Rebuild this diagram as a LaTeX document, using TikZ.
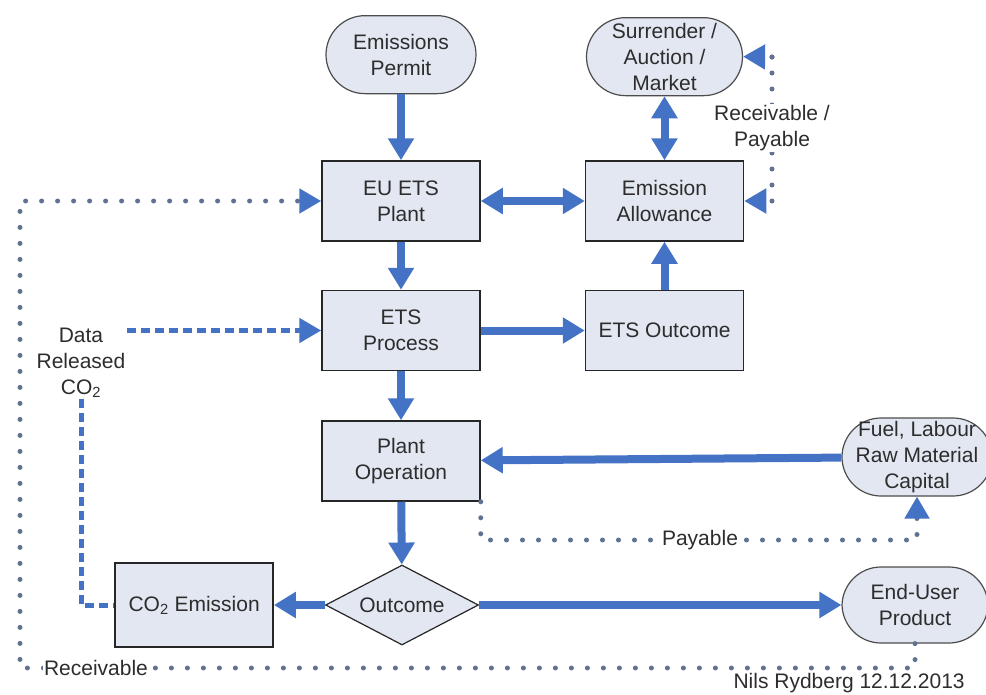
\documentclass[tikz,border=0pt]{standalone}
\usepackage{fontspec}
\setmainfont{Liberation Sans}
\usetikzlibrary{positioning,shapes.geometric,arrows.meta,calc}
\definecolor{flowblue}{RGB}{68,114,196}
\definecolor{boxfill}{RGB}{226,231,241}
\definecolor{dotgray}{RGB}{96,114,146}
\definecolor{textgray}{RGB}{45,45,45}
\tikzset{
    process box/.style={
        rectangle,
        draw=black!85,
        line width=1.5pt,
        fill=boxfill,
        align=center,
        text=textgray,
        font=\fontsize{21}{26}\selectfont,
        minimum width=158pt,
        minimum height=80pt,
        inner sep=0pt,
    },
    terminal/.style={
        process box,
        draw=black!70,
        line width=1.2pt,
        rounded corners=39pt,
        minimum height=78pt,
    },
    decision/.style={
        process box,
        diamond,
        aspect=2,
        line width=1.2pt,
        minimum width=153pt,
        minimum height=80pt,
    },
    line label/.style={
        fill=white,
        inner sep=1pt,
        align=center,
        text=textgray,
        font=\fontsize{21}{26}\selectfont,
    },
    flow connector/.style={
        -{Triangle[length=22pt,width=25pt]},
        line width=8pt,
        draw=flowblue,
    },
    both connector/.style={
        flow connector,
        {Triangle[length=22pt,width=25pt]}-{Triangle[length=22pt,width=25pt]},
    },
    dotted connector/.style={
        -{Triangle[length=22pt,width=24pt,color=flowblue]},
        draw=dotgray,
        line width=5pt,
        line cap=round,
        dash pattern=on 0pt off 16pt,
    },
    data connector/.style={
        draw=flowblue,
        line width=5pt,
        dash pattern=on 9pt off 5pt,
    },
}
\begin{document}
\begin{tikzpicture}[x=1pt,y=-1pt]
    \useasboundingbox (0,0) rectangle (986,694);
    % boxes
    \node[process box](plant) at (401,201) {EU ETS\\Plant};
    \node[process box,right=104pt of plant](allowance) {Emission\\Allowance};
    \node[process box,below=48pt of plant](process) {ETS\\Process};
    \node[process box,below=48pt of allowance](etsout) {ETS Outcome};
    \node[process box,below=49pt of process](operation) {Plant\\Operation};
    \node[decision](outcome) at (402,605) {Outcome};
    \node[process box,left=51pt of outcome,minimum height=84pt](co2) {CO\textsubscript{2} Emission};
    \node[terminal,above=66pt of plant,minimum width=150pt](permit) {Emissions\\Permit};
    \node[terminal,above=64pt of allowance,minimum width=156pt](market) {Surrender /\\Auction /\\Market};
    \node[terminal,minimum width=150pt](fuel) at (917,457) {Fuel, Labour\\Raw Material\\Capital};
    \node[terminal,minimum width=146pt,minimum height=76pt](product) at (915,605) {End-User\\Product};
    \node[line label,fill=none](datalabel) at (81,363) {Data\\Released\\CO\textsubscript{2}};
    % solid flows
    \draw[flow connector] (permit) -- (plant);
    \draw[both connector] (plant) -- (allowance);
    \draw[both connector] (market) -- (allowance);
    \draw[flow connector] (plant) -- (process);
    \draw[flow connector] (process) -- (etsout);
    \draw[flow connector] (etsout) -- (allowance);
    \draw[flow connector] (process) -- (operation);
    \draw[flow connector] (fuel) -- (operation);
    \draw[flow connector] (operation) -- (outcome);
    \draw[flow connector] (outcome) -- (co2);
    \draw[flow connector] (outcome) -- (product);
    % data released
    \draw[data connector] (datalabel.south) |- (co2.west);
    \draw[data connector,-{Triangle[length=22pt,width=24pt]}] (datalabel.east |- process.west) -- (process.west);
    % money flows
    \coordinate (rptop) at (772,57);
    \coordinate (rpbottom) at (772,201);
    \draw[dotted connector] (rptop) -- (market.east);
    \draw[dotted connector] (rptop) -- (rpbottom) -- (allowance.east);
    \node[line label](rplabel) at (772,128) {Receivable /\\Payable};
    \coordinate (payturn) at (operation.south east |- 0,540);
    \draw[dotted connector] (operation.south east) -- (payturn) -| (fuel.south);
    \node[line label](paylabel) at (700,540) {Payable};
    \coordinate (recvturn) at (20,668);
    \draw[dotted connector] (product.south) |- (recvturn) |- (plant.west);
    \node[line label](recvlabel) at (96,668) {Receivable};
    \node[anchor=base west,text=textgray,font=\fontsize{21}{26}\selectfont](sign) at (730,688) {Nils Rydberg 12.12.2013};
\end{tikzpicture}
\end{document}
